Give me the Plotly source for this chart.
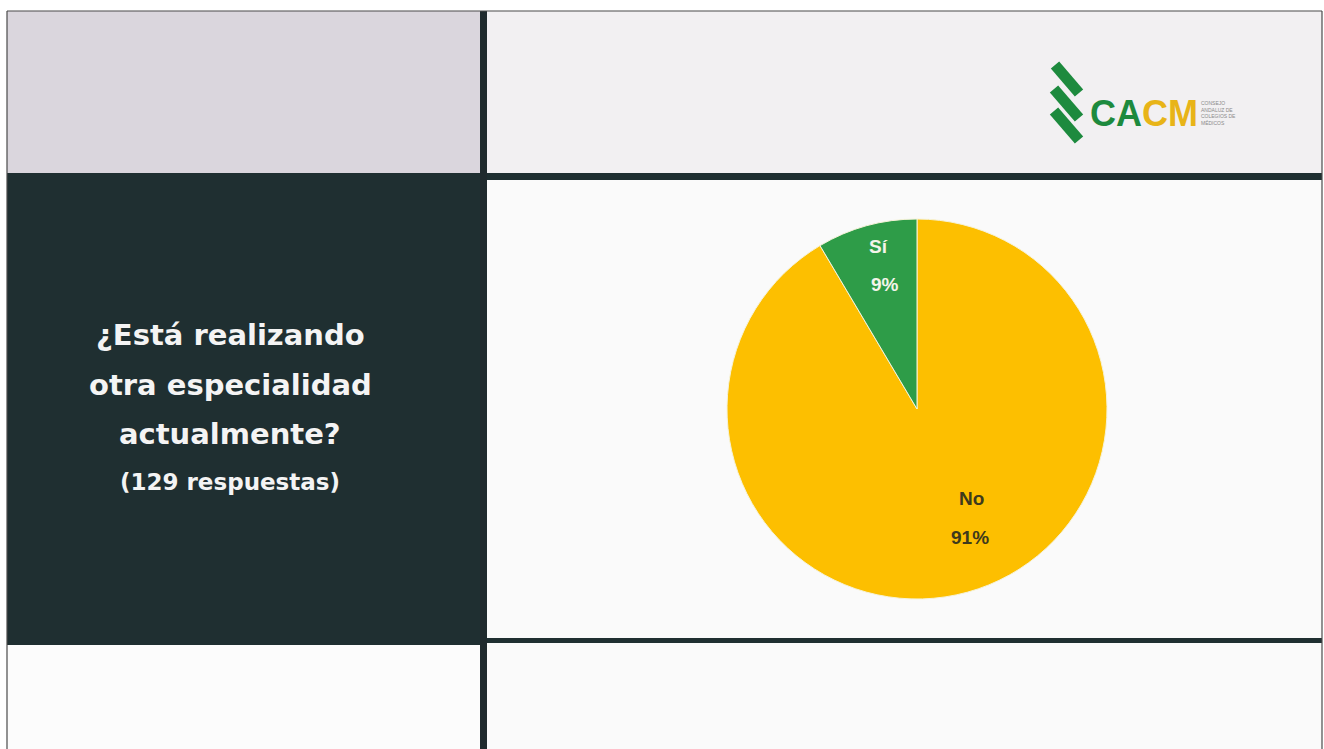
import plotly.graph_objects as go

# ---------------- data ----------------
labels = ["No", "Sí"]
values = [118, 11]
slice_colors = ["#fdbf00", "#2e9c48"]
label_text_colors = ["#3e3a1c", "#f4f4ea"]

question_lines = ["¿Está realizando", "otra especialidad", "actualmente?"]
subtitle = "(129 respuestas)"

W, H = 1324, 749


def px(x):
    return x / W


def py(y):
    return 1 - y / H


def rect(x0, y0, x1, y1, color):
    return dict(type="rect", xref="paper", yref="paper", layer="below",
                x0=px(x0), x1=px(x1), y0=py(y1), y1=py(y0),
                fillcolor=color, line=dict(width=0))


dark = "#1f2f31"
shapes = [
    rect(7, 11, 480, 173, "#dad6dd"),
    rect(487, 11, 1322, 173, "#f2f0f2"),
    rect(7, 173, 487, 645, dark),
    rect(487, 180, 1322, 638, "#fafafa"),
    rect(7, 645, 480, 749, "#fcfcfc"),
    rect(487, 643, 1322, 749, "#fafafa"),
    rect(480, 11, 487, 749, "#1f2a2d"),
    rect(487, 173, 1322, 180, dark),
    rect(487, 638, 1322, 643, dark),
]
# outer frame
for (x0, y0, x1, y1) in [(7, 11, 7, 749), (7, 11, 1322, 11), (1322, 11, 1322, 749)]:
    shapes.append(dict(type="line", xref="paper", yref="paper", layer="below",
                       x0=px(x0), x1=px(x1), y0=py(y0), y1=py(y1),
                       line=dict(color="#4a4a4a", width=1.2)))
# logo stripes
for (x0, y0, x1, y1) in [(1055, 65, 1079, 93), (1054, 89, 1079, 118), (1054, 111, 1079, 140)]:
    shapes.append(dict(type="line", xref="paper", yref="paper", layer="above",
                       x0=px(x0), x1=px(x1), y0=py(y0), y1=py(y1),
                       line=dict(color="#1d8a3e", width=11)))

# pie geometry
cx, cy, R = 917, 409, 190

fig = go.Figure()
fig.add_trace(go.Pie(
    labels=labels, values=values, sort=False, direction="clockwise", rotation=0,
    marker=dict(colors=slice_colors, line=dict(color="#f6f3d8", width=1)),
    textinfo="none", hoverinfo="label+percent", showlegend=False,
    domain=dict(x=[px(cx - R), px(cx + R)], y=[py(cy + R), py(cy - R)]),
))

total = sum(values)
pcts = [f"{round(100 * v / total)}%" for v in values]

annotations = []
# pie labels (label line, percent line) positions in px
label_pos = [((971, 498), (970, 537)), ((878, 247), (885, 284))]
for i in range(len(labels)):
    (lx, ly), (qx, qy) = label_pos[i]
    for t, (x, y) in [(labels[i], (lx, ly)), (pcts[i], (qx, qy))]:
        annotations.append(dict(xref="paper", yref="paper", x=px(x), y=py(y),
                                xanchor="center", yanchor="middle", showarrow=False,
                                text=f"<b>{t}</b>",
                                font=dict(family="Liberation Sans", size=19,
                                          color=label_text_colors[i])))

# question text
for t, y in zip(question_lines, [335, 385, 434]):
    annotations.append(dict(xref="paper", yref="paper", x=px(230), y=py(y),
                            xanchor="center", yanchor="middle", showarrow=False,
                            text=f"<b>{t}</b>",
                            font=dict(family="DejaVu Sans", size=29, color="#f4f4f4")))
annotations.append(dict(xref="paper", yref="paper", x=px(230), y=py(482),
                        xanchor="center", yanchor="middle", showarrow=False,
                        text=f"<b>{subtitle}</b>",
                        font=dict(family="DejaVu Sans", size=23, color="#f4f4f4")))

# logo text
annotations.append(dict(xref="paper", yref="paper", x=px(1088), y=py(113),
                        xanchor="left", yanchor="middle", showarrow=False,
                        text='<b><span style="color:#1d8a3e">CA</span><span style="color:#e8b418">CM</span></b>',
                        font=dict(family="Liberation Sans", size=36)))
annotations.append(dict(xref="paper", yref="paper", x=px(1199), y=py(113),
                        xanchor="left", yanchor="middle", showarrow=False, align="left",
                        text="CONSEJO<br>ANDALUZ DE<br>COLEGIOS DE<br>MÉDICOS",
                        font=dict(family="Liberation Sans", size=5, color="#8a8a8a")))

fig.update_layout(
    width=W, height=H, margin=dict(l=0, r=0, t=0, b=0),
    paper_bgcolor="#ffffff", plot_bgcolor="#ffffff",
    shapes=shapes, annotations=annotations,
)
fig.write_html("out.html")
